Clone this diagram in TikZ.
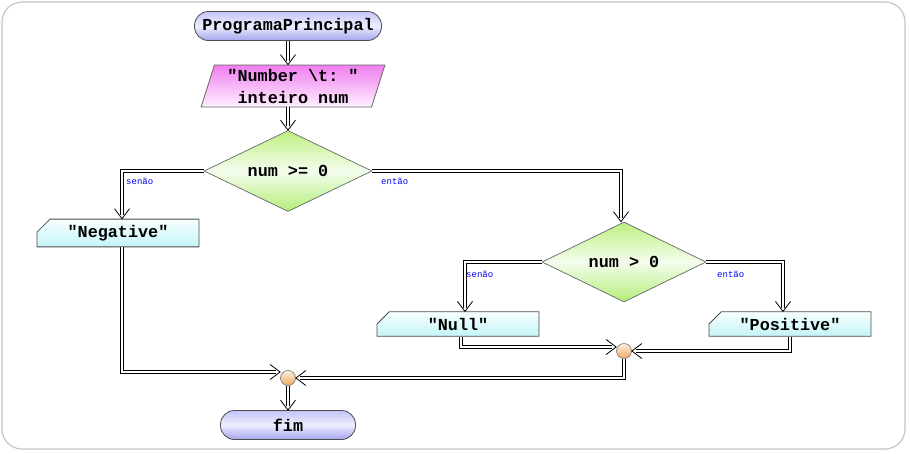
\documentclass[tikz,border=0pt]{standalone}
\usepackage{fontspec}
\setmonofont{Liberation Mono}
\usetikzlibrary{shapes.geometric,shapes.misc,arrows.meta,calc,decorations.markings}
\definecolor{termtop}{HTML}{C4C4F8}
\definecolor{termmid}{HTML}{EEEEFF}
\definecolor{termbot}{HTML}{A4A4EE}
\definecolor{iotop}{HTML}{F07EF0}
\definecolor{iobot}{HTML}{FFF0FF}
\definecolor{dtop}{HTML}{BEF080}
\definecolor{dmid}{HTML}{F4FDEE}
\definecolor{dbot}{HTML}{B4EE78}
\definecolor{btop}{HTML}{F8FFFF}
\definecolor{bbot}{HTML}{C4F4F8}
\definecolor{jtop}{HTML}{FCF0E0}
\definecolor{jbot}{HTML}{F0A860}
\definecolor{lblblue}{HTML}{0000F0}
\definecolor{framegray}{HTML}{C4C4C4}
\tikzset{
  txt/.style={font=\fontsize{16.8}{22}\selectfont\ttfamily\bfseries, text=black},
  term/.style={txt, rectangle, rounded corners=14pt, draw=black!70, line width=0.8pt,
    top color=termtop, bottom color=termbot, middle color=termmid, minimum height=29pt, inner sep=0pt},
  iobox/.style={txt, trapezium, trapezium left angle=72, trapezium right angle=108,
    trapezium stretches=true, draw=black!60, line width=0.8pt,
    top color=iotop, bottom color=iobot, minimum width=184pt, minimum height=42pt, inner sep=0pt, align=center},
  decis/.style={txt, diamond, aspect=2.07, draw=black!60, line width=0.7pt,
    top color=dtop, bottom color=dbot, middle color=dmid, inner sep=0pt},
  outbox/.style={txt, chamfered rectangle, chamfered rectangle corners=north west,
    chamfered rectangle xsep=7pt, chamfered rectangle ysep=6pt,
    draw=black!70, line width=0.8pt, top color=btop, bottom color=bbot,
    minimum width=162pt, minimum height=20pt, inner sep=0pt},
  junc/.style={circle, draw=black!50, line width=0.7pt, top color=jtop, bottom color=jbot,
    minimum size=15pt, inner sep=0pt},
  dbl/.style={draw=white, line width=2.6pt, shorten >=3.8pt, line join=miter,
    preaction={draw=black, line width=4.4pt},
    postaction={decorate, decoration={markings, mark=at position 1 with {
      \draw[black, line width=0.8pt, shorten >=0pt, shorten <=0pt, line join=miter]
        (-10pt,7.5pt) -- (0pt,0pt) -- (-10pt,-7.5pt);}}}},
  lbl/.style={font=\fontsize{9}{10}\selectfont\ttfamily, text=lblblue, inner sep=0pt, anchor=west}
}
\begin{document}
\begin{tikzpicture}[x=1pt,y=-1pt]
\useasboundingbox (0,0) rectangle (910,453);
\draw[framegray, line width=1.2pt, rounded corners=20pt] (2,2) rectangle (905,449);

\node[term, minimum width=187pt] (start) at (288,26) {ProgramaPrincipal};
\node[iobox] (inp) at (293,86) {"Number \textbackslash t: "\\inteiro num};
\node[decis, minimum width=168pt, minimum height=81pt] (d1) at (288,171) {num >= 0};
\node[outbox] (neg) at (118,233) {"Negative"};
\node[decis, minimum width=164pt, minimum height=80pt] (d2) at (624,262) {num > 0};
\node[outbox] (null) at (458,324) {"Null"};
\node[outbox] (pos) at (790,324) {"Positive"};
\node[junc] (j2) at (624,351) {};
\node[junc] (j1) at (288,378) {};
\node[term, minimum width=135pt] (fim) at (288,425) {fim};

\draw[dbl] (start.south) -- (start.south |- inp.north);
\draw[dbl] (d1.north |- inp.south) -- (d1.north);
\draw[dbl] (d1.west) -| ($(neg.north)+(4,0)$);
\draw[dbl] (d1.east) -| ($(d2.north)+(-3,0)$);
\draw[dbl] (d2.west) -| ($(null.north)+(7,0)$);
\draw[dbl] (d2.east) -| ($(pos.north)+(-7,0)$);
\draw[dbl] ($(null.south)+(3,0)$) |- ($(j2.west)+(0,-4)$);
\draw[dbl] (pos.south) |- (j2.east);
\draw[dbl] ($(neg.south)+(4,0)$) |- ($(j1.west)+(0,-6)$);
\draw[dbl] (j2.south) |- (j1.east);
\draw[dbl] (j1.south) -- (fim.north);

\node[lbl] (l1) at (126,181) {senão};
\node[lbl] (l2) at (381,181) {então};
\node[lbl] (l3) at (466,274) {senão};
\node[lbl] (l4) at (717,274) {então};
\end{tikzpicture}
\end{document}
